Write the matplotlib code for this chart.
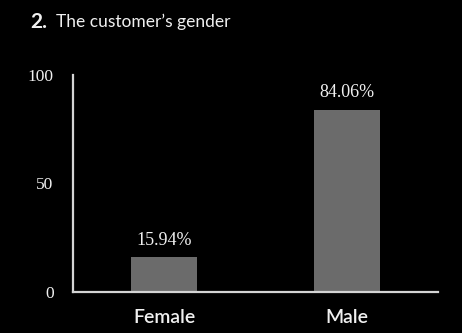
import matplotlib.pyplot as plt

# --- Daten ---
categories = ["Female", "Male"]
shares = [15.94, 84.06]
yticks = [0, 50, 100]

bg = "black"
bar_color = "#6b6b6b"
axis_color = "#d4d4d4"
text_color = "#f0f0f0"

fig = plt.figure(figsize=(4.62, 3.33), dpi=100, facecolor=bg)
ax = fig.add_axes([0.158, 0.123, 0.79, 0.652], facecolor=bg)

x = range(len(categories))
bars = ax.bar(x, shares, width=0.36, color=bar_color)

# Prozentwerte über den Balken
for b, v in zip(bars, shares):
    ax.annotate(f"{v:.2f}%", (b.get_x() + b.get_width() / 2, v),
                xytext=(0, 6), textcoords="offset points",
                ha="center", va="bottom", color=text_color,
                family="Liberation Serif", fontsize=13)

ax.set_xlim(-0.5, 1.5)
ax.set_ylim(0, 100)
ax.set_xticks(list(x))
ax.set_xticklabels(categories, family="Lato", fontweight="semibold",
                   fontsize=14, color=text_color)
ax.set_yticks(yticks)
ax.set_yticklabels([str(t) for t in yticks], family="Liberation Serif",
                   fontsize=12.5, color=text_color)
ax.tick_params(axis="both", length=0)
ax.tick_params(axis="y", pad=14)
ax.tick_params(axis="x", pad=12)

for side in ("top", "right"):
    ax.spines[side].set_visible(False)
for side in ("left", "bottom"):
    ax.spines[side].set_color(axis_color)
    ax.spines[side].set_linewidth(1.6)

# Überschrift
fig.text(0.065, 0.935, "2.", family="Lato", fontweight="bold",
         fontsize=15, color=text_color, ha="left", va="center")
fig.text(0.122, 0.935, "The customer\u2019s gender", family="Lato",
         fontsize=12.5, color=text_color, ha="left", va="center")

fig.savefig("out.png", dpi=100, facecolor=bg)
